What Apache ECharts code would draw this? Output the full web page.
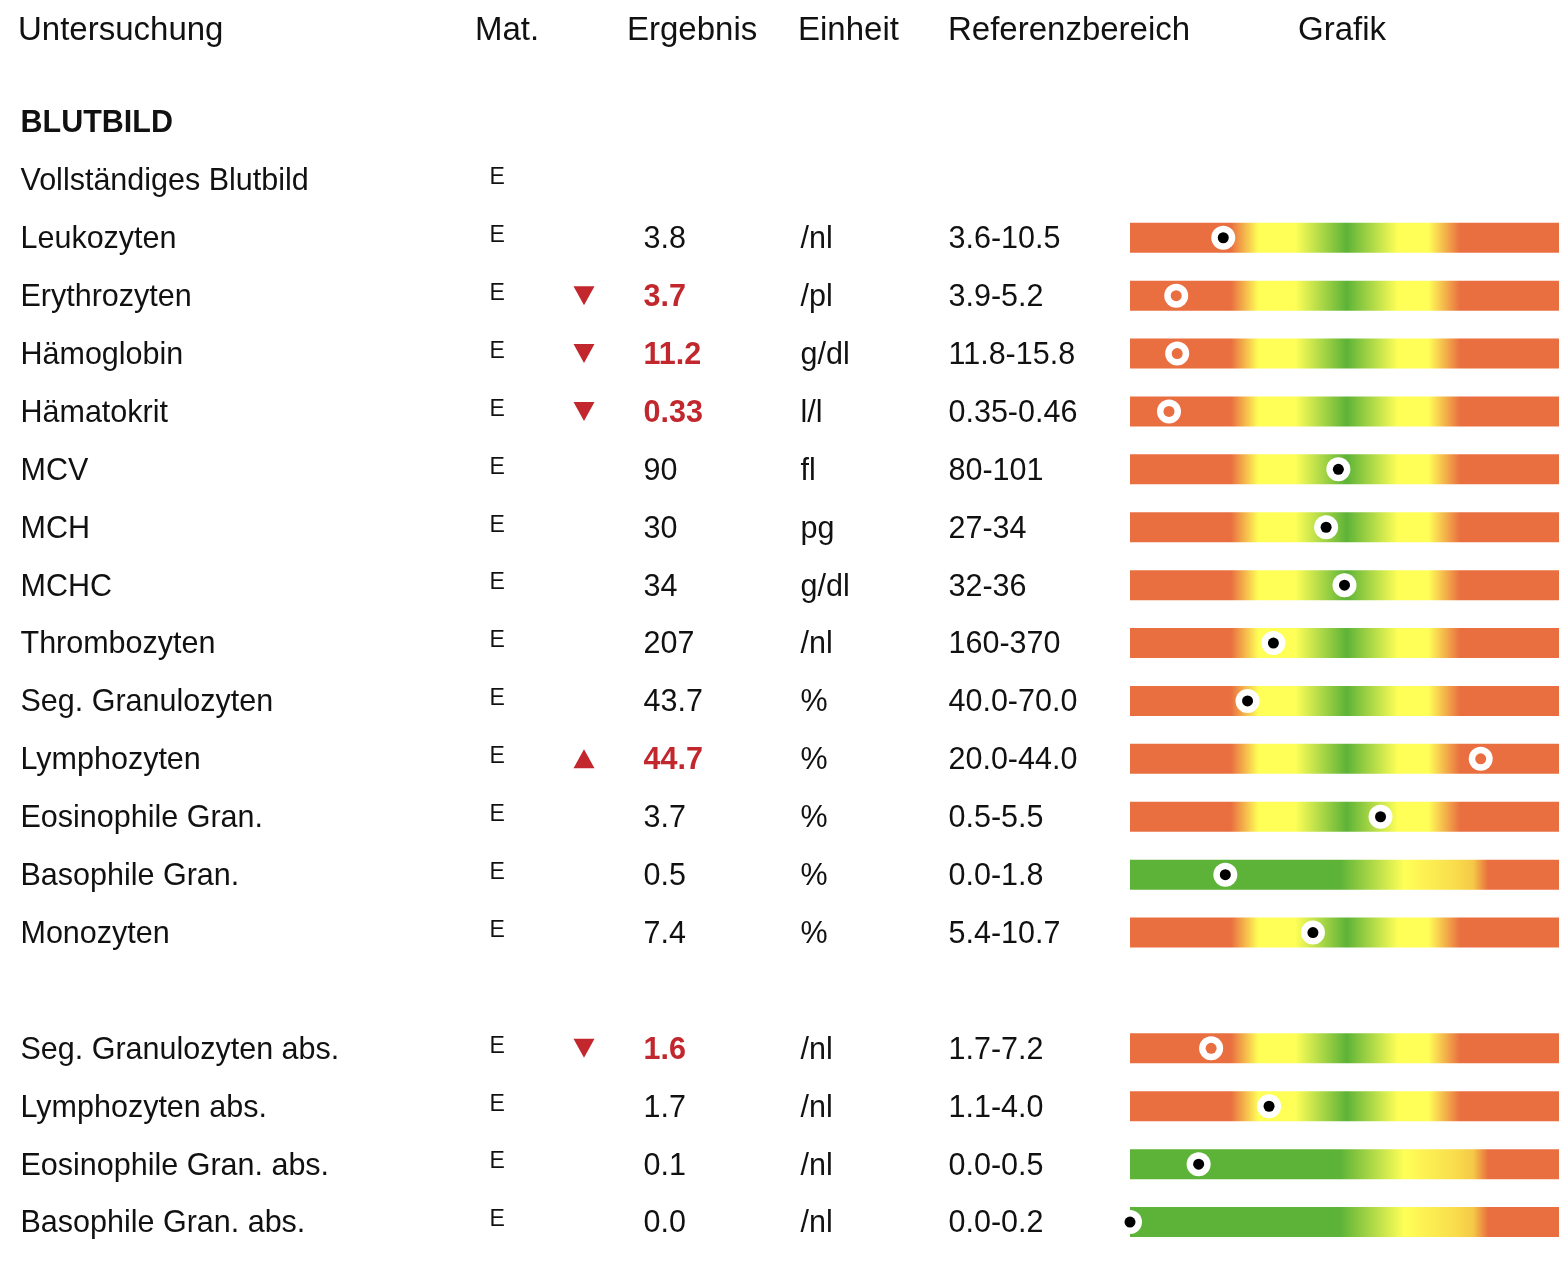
<!DOCTYPE html>
<html>
<head>
<meta charset="utf-8">
<title>Blutbild</title>
<script src="https://cdn.jsdelivr.net/npm/echarts@6/dist/echarts.min.js"></script>
<style>
    html, body {margin: 0; padding: 0; background: #fff;}
    #main {width: 1559px; height: 1264px;}
</style>
</head>
<body>
<div id="main"></div>
<script>
// Tabellenzeilen von oben nach unten (leere Strings = keine Angabe)
var untersuchung = ['BLUTBILD', 'Vollständiges Blutbild', 'Leukozyten', 'Erythrozyten', 'Hämoglobin', 'Hämatokrit',
    'MCV', 'MCH', 'MCHC', 'Thrombozyten', 'Seg. Granulozyten', 'Lymphozyten', 'Eosinophile Gran.', 'Basophile Gran.',
    'Monozyten', '', 'Seg. Granulozyten abs.', 'Lymphozyten abs.', 'Eosinophile Gran. abs.', 'Basophile Gran. abs.'];
var material = ['', 'E', 'E', 'E', 'E', 'E', 'E', 'E', 'E', 'E', 'E', 'E', 'E', 'E', 'E', '', 'E', 'E', 'E', 'E'];
var ergebnis = ['', '', '3.8', '3.7', '11.2', '0.33', '90', '30', '34', '207', '43.7', '44.7', '3.7', '0.5', '7.4',
    '', '1.6', '1.7', '0.1', '0.0'];
var einheit = ['', '', '/nl', '/pl', 'g/dl', 'l/l', 'fl', 'pg', 'g/dl', '/nl', '%', '%', '%', '%', '%',
    '', '/nl', '/nl', '/nl', '/nl'];
var referenz = ['', '', '3.6-10.5', '3.9-5.2', '11.8-15.8', '0.35-0.46', '80-101', '27-34', '32-36', '160-370',
    '40.0-70.0', '20.0-44.0', '0.5-5.5', '0.0-1.8', '5.4-10.7', '', '1.7-7.2', '1.1-4.0', '0.0-0.5', '0.0-0.2'];
var kopfzeile = ['Untersuchung', 'Mat.', 'Ergebnis', 'Einheit', 'Referenzbereich', 'Grafik'];

var FONT = '"Liberation Sans", Arial, Helvetica, sans-serif';
var TEXT = '#111111';
var ROT = '#E96E40', GELB = '#FFFF57', GRUEN = '#5DB337', MARKIERT = '#C1272D';
// x-Positionen der Spalten (Pixel)
var spalte = {name: 20, mat: 489, pfeil: 584, ergebnis: 643, einheit: 800, referenz: 948};
var kopfX = [18, 475, 627, 798, 948, 1298];

var zeilen = untersuchung.map(function (n, i) { return String(i); });

function bereich(i) {
    if (!referenz[i]) return null;
    var p = referenz[i].split('-');
    return {lo: parseFloat(p[0]), hi: parseFloat(p[1])};
}

// Abweichung vom Referenzbereich: -1 zu niedrig, 1 zu hoch
function abweichung(i) {
    var b = bereich(i);
    if (!b || ergebnis[i] === '') return 0;
    var v = parseFloat(ergebnis[i]);
    if (v < b.lo) return -1;
    if (v > b.hi) return 1;
    return 0;
}

// Lage auf dem Balken in Prozent: Referenzbereich liegt bei 20..80 % (bzw. 0..80 % wenn er bei 0 beginnt)
function lage(i) {
    var b = bereich(i);
    var v = parseFloat(ergebnis[i]);
    if (b.lo === 0) return 80 * v / b.hi;
    return 20 + 60 * (v - b.lo) / (b.hi - b.lo);
}

function verlauf(abNull) {
    var stops = abNull
        ? [[0, GRUEN], [0.49, GRUEN], [0.64, GELB], [0.76, '#F9DC4C'], [0.80, '#F5C846'], [0.835, ROT], [1, ROT]]
        : [[0, ROT], [0.235, ROT], [0.30, GELB], [0.385, GELB], [0.505, GRUEN], [0.625, GELB], [0.695, GELB],
            [0.77, ROT], [1, ROT]];
    return new echarts.graphic.LinearGradient(0, 0, 1, 0, stops.map(function (s) {
        return {offset: s[0], color: s[1]};
    }));
}

// eine Textspalte als unsichtbare Punkte mit Beschriftung
function textSpalte(x, texte, style) {
    var data = [];
    texte.forEach(function (t, i) {
        if (t === '') return;
        var s = typeof style === 'function' ? style(i) : style;
        data.push({
            value: [x, i],
            label: {
                show: true, position: 'right', distance: 0, formatter: t,
                fontFamily: FONT, fontSize: s.size || 30.5, fontWeight: s.bold ? 'bold' : 'normal',
                color: s.color || TEXT, offset: [0, s.dy === undefined ? 2 : s.dy]
            }
        });
    });
    return {
        type: 'scatter', xAxisIndex: 0, yAxisIndex: 0, symbol: 'rect', symbolSize: 1, silent: true,
        itemStyle: {color: 'transparent', opacity: 1}, data: data
    };
}

var balken = untersuchung.map(function (n, i) {
    var b = bereich(i);
    if (!b || ergebnis[i] === '') return '-';
    return {value: 100, itemStyle: {color: verlauf(b.lo === 0)}};
});

var punkte = [];
untersuchung.forEach(function (n, i) {
    if (bereich(i) && ergebnis[i] !== '') punkte.push({value: [lage(i), i], abw: abweichung(i)});
});

var pfeile = [];
untersuchung.forEach(function (n, i) {
    var a = abweichung(i);
    if (a !== 0) pfeile.push({value: [spalte.pfeil, i], symbolRotate: a < 0 ? 180 : 0});
});

var gitter = {top: 93, bottom: 13};
var option = {
    animation: false,
    backgroundColor: '#ffffff',
    grid: [
        {left: 0, right: 0, top: gitter.top, bottom: gitter.bottom},
        {left: 1130, width: 440, top: gitter.top, bottom: gitter.bottom}
    ],
    xAxis: [
        {gridIndex: 0, type: 'value', min: 0, max: 1559, show: false},
        {gridIndex: 1, type: 'value', min: 0, max: 100, show: false}
    ],
    yAxis: [
        {gridIndex: 0, type: 'category', data: zeilen, inverse: true, show: false},
        {gridIndex: 1, type: 'category', data: zeilen, inverse: true, show: false}
    ],
    graphic: kopfzeile.map(function (t, j) {
        return {
            type: 'text', left: kopfX[j], top: 14, silent: true,
            style: {text: t, fontFamily: FONT, fontSize: 33, fill: TEXT}
        };
    }),
    series: [
        {
            type: 'bar', xAxisIndex: 1, yAxisIndex: 1, barWidth: 30, silent: true, data: balken
        },
        {
            // weisser Ring
            type: 'scatter', xAxisIndex: 1, yAxisIndex: 1, symbolSize: 24, silent: true,
            itemStyle: {color: '#ffffff', opacity: 1}, data: punkte, z: 3
        },
        {
            // Kern: schwarz im Normalbereich, rot bei Abweichung
            type: 'scatter', xAxisIndex: 1, yAxisIndex: 1, symbolSize: 11, silent: true, z: 4,
            itemStyle: {
                opacity: 1,
                color: function (p) { return p.data.abw !== 0 ? ROT : '#000000'; }
            },
            data: punkte
        },
        {
            type: 'scatter', xAxisIndex: 0, yAxisIndex: 0, symbol: 'triangle', symbolSize: [21, 19], silent: true,
            itemStyle: {color: MARKIERT, opacity: 1}, data: pfeile
        },
        textSpalte(spalte.name, untersuchung, function (i) { return {bold: i === 0}; }),
        textSpalte(spalte.mat, material, {size: 23, dy: -2}),
        textSpalte(spalte.ergebnis, ergebnis, function (i) {
            return abweichung(i) !== 0 ? {bold: true, color: MARKIERT} : {};
        }),
        textSpalte(spalte.einheit, einheit, {}),
        textSpalte(spalte.referenz, referenz, {})
    ]
};

var chart = echarts.init(document.getElementById('main'));
chart.setOption(option);
</script>
</body>
</html>
